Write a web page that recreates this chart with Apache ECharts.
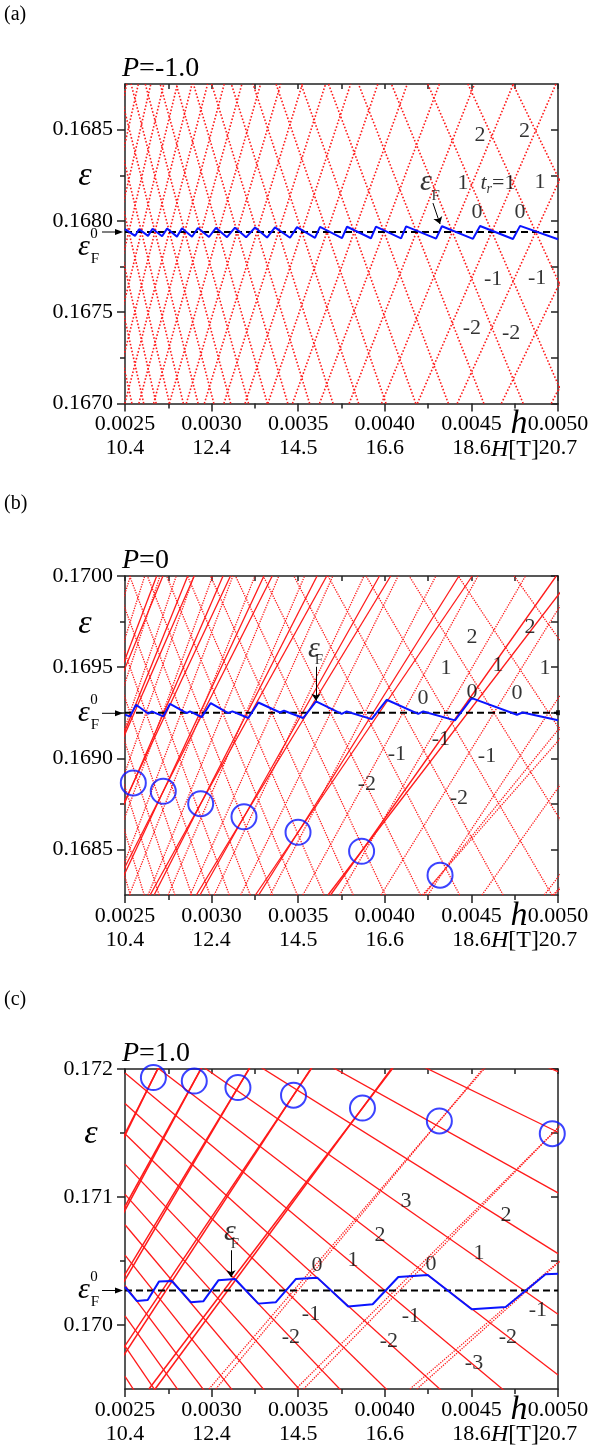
<!DOCTYPE html>
<html><head><meta charset="utf-8">
<script src="https://cdn.jsdelivr.net/npm/echarts@6/dist/echarts.min.js"></script>
<style>html,body{margin:0;padding:0;background:#fff}#c{width:593px;height:1451px}</style>
</head><body><div id="c"></div>
<script>
// ---------- axis ticks / labels ----------
const xMajors=[0.0025,0.0030,0.0035,0.0040,0.0045,0.0050];
const xMinors=[0.00275,0.00325,0.00375,0.00425,0.00475];
const hLabels=['0.0025','0.0030','0.0035','0.0040','0.0045','0.0050'];
const teslaLabels=['10.4','12.4','14.5','16.6','18.6','20.7'];
const yRanges=[[0.1670,0.16875],[0.16825,0.1700],[0.1695,0.1720]];
const yMajors=[[0.1670,0.1675,0.1680,0.1685],[0.1685,0.1690,0.1695,0.1700],[0.170,0.171,0.172]];
const yMinors=[[0.16725,0.16775,0.16825],[0.16875,0.16925,0.16975],[0.1705,0.1715]];
const yDigits=[4,4,3];
// ---------- Fermi level ----------
const fermiZero=[0.16794,0.16925,0.17027];
const fermiA=[[0.0025,0.167955],[0.002558,0.167918],[0.002581,0.167955],[0.002633,0.167918],[0.002659,0.167957],[0.002714,0.167916],[0.002743,0.167958],[0.002800,0.167914],[0.002829,0.167960],[0.002887,0.167913],[0.002921,0.167961],[0.002985,0.167912],[0.003025,0.167962],[0.003089,0.167911],[0.003135,0.167963],[0.003199,0.167910],[0.003251,0.167964],[0.003320,0.167909],[0.003366,0.167965],[0.003453,0.167908],[0.003493,0.167966],[0.003597,0.167907],[0.003626,0.167967],[0.003753,0.167906],[0.003782,0.167968],[0.003920,0.167905],[0.003949,0.167969],[0.004094,0.167904],[0.004123,0.167970],[0.004296,0.167903],[0.004330,0.167971],[0.004509,0.167902],[0.004550,0.167972],[0.004740,0.167901],[0.004781,0.167973],[0.0050,0.167900]];
const fermiB=[[0.0025,0.169239],[0.002529,0.169230],[0.002564,0.169294],[0.002635,0.169244],[0.002654,0.169257],[0.002721,0.169230],[0.002760,0.169299],[0.002856,0.169248],[0.002875,0.169257],[0.002943,0.169226],[0.002995,0.169303],[0.003096,0.169248],[0.003120,0.169257],[0.003212,0.169221],[0.003270,0.169306],[0.003395,0.169251],[0.003418,0.169261],[0.003529,0.169221],[0.003603,0.169312],[0.003751,0.169244],[0.003780,0.169257],[0.003924,0.169215],[0.004011,0.169321],[0.004193,0.169244],[0.004222,0.169257],[0.004405,0.169208],[0.004502,0.169330],[0.004763,0.169239],[0.004796,0.169251],[0.0050,0.169209]];
const fermiC=[[0.0025,0.170297],[0.002568,0.170188],[0.002631,0.170195],[0.002696,0.170339],[0.002770,0.170344],[0.002881,0.170177],[0.002952,0.170185],[0.003039,0.170349],[0.003135,0.170359],[0.003270,0.170167],[0.003370,0.170177],[0.003486,0.170359],[0.003610,0.170370],[0.003789,0.170144],[0.003930,0.170162],[0.004078,0.170375],[0.004248,0.170391],[0.004502,0.170123],[0.004698,0.170141],[0.004928,0.170396],[0.0050,0.170400]];
// ---------- Landau levels (h where each line meets the bottom / top of its panel) ----------
const levelsUpA=[[0.004961,0.005909],[0.004673,0.005566],[0.004418,0.005262],[0.004188,0.004988],[0.003981,0.004742],[0.003794,0.004518],[0.003623,0.004315],[0.003467,0.004130],[0.003325,0.003960],[0.003193,0.003803],[0.003071,0.003658],[0.002958,0.003524],[0.002854,0.003399],[0.002756,0.003283],[0.002665,0.003175],[0.002580,0.003073],[0.002499,0.002977],[0.002424,0.002887],[0.002353,0.002803],[0.002287,0.002724],[0.002224,0.002649],[0.002164,0.002577],[0.002108,0.002510]];
const levelsDownA=[[0.005633,0.004740],[0.005325,0.004480],[0.005048,0.004248],[0.004799,0.004038],[0.004572,0.003848],[0.004367,0.003675],[0.004179,0.003516],[0.004007,0.003372],[0.003849,0.003239],[0.003701,0.003114],[0.003566,0.003000],[0.003440,0.002895],[0.003322,0.002795],[0.003213,0.002703],[0.003110,0.002617],[0.003013,0.002535],[0.002922,0.002459],[0.002837,0.002387],[0.002757,0.002320],[0.002680,0.002255],[0.002608,0.002195],[0.002540,0.002138]];
const levelsUpB=[[0.004921,0.006332],[0.004561,0.005869],[0.004249,0.005468],[0.003978,0.005119],[0.003739,0.004812],[0.003527,0.004538],[0.003338,0.004295],[0.003168,0.004077],[0.003015,0.003880],[0.002876,0.003700],[0.002749,0.003537],[0.002633,0.003388],[0.002525,0.003250],[0.002427,0.003123],[0.002336,0.003006],[0.002252,0.002898],[0.002173,0.002796],[0.002100,0.002702],[0.002031,0.002614],[0.001967,0.002531]];
const levelsDownB=[[0.006055,0.004747],[0.005642,0.004424],[0.005282,0.004141],[0.004965,0.003892],[0.004683,0.003672],[0.004432,0.003475],[0.004206,0.003298],[0.004003,0.003138],[0.003818,0.002994],[0.003649,0.002861],[0.003495,0.002740],[0.003353,0.002629],[0.003223,0.002527],[0.003102,0.002432],[0.002990,0.002344],[0.002885,0.002262],[0.002788,0.002186],[0.002697,0.002114],[0.002611,0.002047],[0.002531,0.001985]];
const pairsSolidB=[[0.001961,0.002719],[0.001984,0.002683],[0.002093,0.002900],[0.002116,0.002862],[0.002244,0.003109],[0.002267,0.003066],[0.002418,0.003350],[0.002441,0.003302],[0.002645,0.003665],[0.002668,0.003609],[0.002912,0.004034],[0.002933,0.003969],[0.003253,0.004505],[0.003272,0.004428],[0.003672,0.005085],[0.003687,0.004990]];
const pairsDottedB=[[0.004218,0.005838],[0.004226,0.005722],[0.004976,0.006884],[0.004971,0.006734]];
// panel c down levels: energy at h=0.0025 and at h=0.0050
const levelsDownC=[[0.17339,0.17198],[0.173153,0.171506],[0.172916,0.171032],[0.172679,0.170558],[0.172442,0.170084],[0.172205,0.16961],[0.171968,0.169136],[0.171731,0.168662],[0.171494,0.168188],[0.171257,0.167714],[0.17102,0.16724],[0.170783,0.166766],[0.170546,0.166292],[0.170309,0.165818],[0.170072,0.165344],[0.169835,0.16487],[0.169598,0.164396]];
// panel c up levels: h at eps=0.1695 and eps=0.1722
const pairsSolidC=[[0.001754,0.002764],[0.001781,0.002761],[0.001917,0.00302],[0.001946,0.003017],[0.002099,0.003306],[0.00213,0.003302],[0.002332,0.003674],[0.002366,0.003668],[0.002638,0.004155],[0.002674,0.004146]];
const pairsDottedC=[[0.002985,0.0047],[0.003024,0.004689],[0.003486,0.00549],[0.003531,0.005475],[0.004145,0.006477],[0.004185,0.00642]];
// ---------- circles, labels ----------
const circlesB=[[0.002548,0.168865],[0.002721,0.168819],[0.002937,0.168751],[0.003187,0.168679],[0.003499,0.168594],[0.003866,0.168490],[0.004319,0.168359]];
const circlesC=[[0.002664,0.171933],[0.002900,0.171906],[0.003152,0.171855],[0.003473,0.171795],[0.003871,0.171695],[0.004315,0.171594],[0.004967,0.171495]];
const labelsA=[[0.004550,0.168471,'2'],[0.004807,0.168489,'2'],[0.004451,0.168208,'1'],[0.004896,0.168213,'1'],[0.004532,0.168046,'0'],[0.004780,0.168049,'0'],[0.004625,0.167682,'-1'],[0.004879,0.167688,'-1'],[0.004503,0.167411,'-2'],[0.004729,0.167386,'-2']];
const labelsB=[[0.004503,0.169666,'2'],[0.004838,0.169721,'2'],[0.004353,0.169496,'1'],[0.004653,0.169513,'1'],[0.004925,0.169496,'1'],[0.004220,0.169332,'0'],[0.004503,0.169365,'0'],[0.004763,0.169359,'0'],[0.004070,0.169025,'-1'],[0.004324,0.169107,'-1'],[0.004590,0.169009,'-1'],[0.003897,0.168856,'-2'],[0.004428,0.168779,'-2']];
const labelsC=[[0.004122,0.170966,'3'],[0.003972,0.170701,'2'],[0.004700,0.170857,'2'],[0.003816,0.170505,'1'],[0.004544,0.170560,'1'],[0.003608,0.170466,'0'],[0.004267,0.170474,'0'],[0.003574,0.170084,'-1'],[0.004151,0.170068,'-1'],[0.004884,0.170115,'-1'],[0.003458,0.169904,'-2'],[0.004024,0.169873,'-2'],[0.004711,0.169904,'-2'],[0.004515,0.169701,'-3']];
const efNotes=[[0.004238,0.168213,0.004293,0.168137,0.004278,0.168098,0.004319,0.167983],[0.003591,0.169600,0.003620,0.169540,0.003603,0.169502,0.003603,0.169316],[0.003106,0.170724,0.003135,0.170630,0.003112,0.170584,0.003112,0.170373]];

const grids=[{left:125,top:84,width:433,height:319.5},{left:125,top:576,width:433,height:319},{left:125,top:1069,width:433,height:320}];
const AX='#222';
const serif='Liberation Serif';
let xAxis=[],yAxis=[],series=[];
for(let g=0;g<3;g++){
  const base={gridIndex:g,type:'value',min:0.0025,max:0.0050,splitLine:{show:false}};
  xAxis.push(Object.assign({},base,{position:'bottom',axisLine:{show:true,onZero:false,lineStyle:{color:AX,width:1.5}},
    axisTick:{show:true,inside:false,length:8,customValues:xMajors,lineStyle:{color:AX,width:1.5}},
    axisLabel:{show:true,customValues:xMajors,margin:9,formatter:v=>{const i=Math.round((v-0.0025)/0.0005);return '{a|'+hLabels[i]+'}\n{b|'+teslaLabels[i]+'}';},
      rich:{a:{fontFamily:serif,fontSize:22,lineHeight:24,color:'#000'},b:{fontFamily:serif,fontSize:22,lineHeight:24,color:'#000'}}}}));
  xAxis.push(Object.assign({},base,{position:'bottom',axisLine:{show:false,onZero:false},axisTick:{show:true,inside:false,length:5,customValues:xMinors,lineStyle:{color:AX,width:1.5}},axisLabel:{show:false}}));
  xAxis.push(Object.assign({},base,{position:'top',axisLine:{show:true,onZero:false,lineStyle:{color:AX,width:1.5}},axisTick:{show:true,inside:true,length:5,customValues:xMajors.concat(xMinors),lineStyle:{color:AX,width:1.5}},axisLabel:{show:false}}));
  const yb={gridIndex:g,type:'value',min:yRanges[g][0],max:yRanges[g][1],splitLine:{show:false}};
  yAxis.push(Object.assign({},yb,{position:'left',axisLine:{show:true,onZero:false,lineStyle:{color:AX,width:1.5}},
    axisTick:{show:true,inside:false,length:8,customValues:yMajors[g],lineStyle:{color:AX,width:1.5}},
    axisLabel:{show:true,customValues:yMajors[g],margin:12,fontFamily:serif,fontSize:22,color:'#000',formatter:v=>v.toFixed(yDigits[g])}}));
  yAxis.push(Object.assign({},yb,{position:'left',axisLine:{show:false,onZero:false},axisTick:{show:true,inside:false,length:5,customValues:yMinors[g],lineStyle:{color:AX,width:1.5}},axisLabel:{show:false}}));
  yAxis.push(Object.assign({},yb,{position:'right',axisLine:{show:true,onZero:false,lineStyle:{color:AX,width:1.5}},axisTick:{show:true,inside:true,length:7,customValues:yMajors[g].concat(yMinors[g]),lineStyle:{color:AX,width:1.5}},axisLabel:{show:false}}));
}
function seg(g,p1,p2,style){series.push({type:'line',xAxisIndex:3*g,yAxisIndex:3*g,data:[p1,p2],symbol:'none',silent:true,clip:true,z:2,lineStyle:style,animation:false});}
const RED='#ff1a1a';
const dotted={color:RED,width:1.6,type:[1.6,1.9]};
const fineDot={color:RED,width:1.3,type:[1.3,1.2]};
const solid={color:RED,width:1.3,type:'solid'};
const solidBold={color:RED,width:1.5,type:'solid'};
// panel a
levelsUpA.forEach(l=>seg(0,[l[0],yRanges[0][0]],[l[1],yRanges[0][1]],dotted));
levelsDownA.forEach(l=>seg(0,[l[0],yRanges[0][0]],[l[1],yRanges[0][1]],dotted));
// panel b
levelsUpB.forEach(l=>seg(1,[l[0],yRanges[1][0]],[l[1],yRanges[1][1]],fineDot));
levelsDownB.forEach(l=>seg(1,[l[0],yRanges[1][0]],[l[1],yRanges[1][1]],fineDot));
pairsSolidB.forEach(l=>seg(1,[l[0],yRanges[1][0]],[l[1],yRanges[1][1]],solid));
pairsDottedB.forEach(l=>seg(1,[l[0],yRanges[1][0]],[l[1],yRanges[1][1]],fineDot));
// panel c
levelsDownC.forEach(l=>seg(2,[0.0025,l[0]],[0.0050,l[1]],solid));
pairsSolidC.forEach(l=>seg(2,[l[0],0.1695],[l[1],0.1722],solidBold));
pairsDottedC.forEach(l=>seg(2,[l[0],0.1695],[l[1],0.1722],fineDot));

const fermis=[fermiA,fermiB,fermiC];
for(let g=0;g<3;g++){
  series.push({type:'line',xAxisIndex:3*g,yAxisIndex:3*g,data:[[0.0025,fermiZero[g]],[0.0050,fermiZero[g]]],symbol:'none',silent:true,z:3,lineStyle:{color:'#000',width:2,type:[7,4]},animation:false});
  series.push({type:'line',xAxisIndex:3*g,yAxisIndex:3*g,data:fermis[g],symbol:'none',silent:true,z:4,lineStyle:{color:'#0a14ff',width:2},animation:false});
  const labs=[labelsA,labelsB,labelsC][g];
  series.push({type:'scatter',xAxisIndex:3*g,yAxisIndex:3*g,data:labs,symbolSize:0.1,silent:true,z:6,animation:false,
    label:{show:true,position:'inside',formatter:p=>p.data[2],fontFamily:serif,fontSize:22,color:'#000'}});
  const n=efNotes[g];
  series.push({type:'scatter',xAxisIndex:3*g,yAxisIndex:3*g,data:[[n[0],n[1]]],symbolSize:0.1,silent:true,z:6,animation:false,
    label:{show:true,position:'inside',formatter:'ε',fontFamily:serif,fontStyle:'italic',fontSize:30,color:'#000'}});
  series.push({type:'scatter',xAxisIndex:3*g,yAxisIndex:3*g,data:[[n[2],n[3]]],symbolSize:0.1,silent:true,z:6,animation:false,
    label:{show:true,position:'inside',formatter:'F',fontFamily:serif,fontSize:15,color:'#000'}});
  series.push({type:'lines',coordinateSystem:'cartesian2d',xAxisIndex:3*g,yAxisIndex:3*g,symbol:['none','arrow'],symbolSize:7,silent:true,z:6,animation:false,
    lineStyle:{color:'#000',width:1,opacity:1},data:[{coords:[[n[4],n[5]],[n[6],n[7]]]}]});
}
// small end mark on the dashed line of panel b
series.push({type:'scatter',xAxisIndex:3,yAxisIndex:3,data:[[0.0050,fermiZero[1]]],symbol:'rect',symbolSize:[4,5],silent:true,z:8,animation:false,itemStyle:{color:'#000'}});
[circlesB,circlesC].forEach((c,i)=>series.push({type:'scatter',xAxisIndex:3*(i+1),yAxisIndex:3*(i+1),data:c,symbol:'circle',symbolSize:25,silent:true,z:7,animation:false,
  itemStyle:{color:'rgba(0,0,0,0)',borderColor:'#0a14ff',borderWidth:2}}));
series.push({type:'scatter',xAxisIndex:0,yAxisIndex:0,data:[[0.004653,0.168208]],symbolSize:0.1,silent:true,z:6,animation:false,
  label:{show:true,position:'inside',formatter:'{t|t}{r|r}{n|=1}',rich:{t:{fontFamily:serif,fontStyle:'italic',fontSize:22},r:{fontFamily:serif,fontStyle:'italic',fontSize:14,padding:[12,0,0,0]},n:{fontFamily:serif,fontSize:22}},color:'#000'}});

const graphic=[];
const panelTops=[84,576,1069],panelBottoms=[403.5,895,1389];
const panelLetters=['(a)','(b)','(c)'],panelLetterY=[16,505,1001];
const titles=['P=-1.0','P=0','P=1.0'];
const fermiY=[232,713.3,1290.5];
const epsY=[176,624,1134],epsX=[85,85,91];
for(let g=0;g<3;g++){
  graphic.push({type:'text',left:4,top:panelLetterY[g]-11,style:{text:panelLetters[g],font:'20px "Liberation Serif"',fill:'#000'}});
  graphic.push({type:'text',x:122,y:panelTops[g]-1,style:{text:'{p|P}{q|'+titles[g].slice(1)+'}',rich:{p:{fontFamily:serif,fontStyle:'italic',fontSize:28},q:{fontFamily:serif,fontSize:28}},textVerticalAlign:'bottom',fill:'#000'}});
  graphic.push({type:'text',x:epsX[g],y:epsY[g],style:{text:'ε',font:'italic 34px "Liberation Serif"',fill:'#000',textAlign:'center',textVerticalAlign:'middle'}});
  graphic.push({type:'text',x:519,y:panelBottoms[g]+21,style:{text:'h',font:'italic 34px "Liberation Serif"',fill:'#000',textAlign:'center',textVerticalAlign:'middle'}});
  graphic.push({type:'text',x:515,y:panelBottoms[g]+46,style:{text:'{h|H}{t|[T]}',rich:{h:{fontFamily:serif,fontStyle:'italic',fontSize:24},t:{fontFamily:serif,fontSize:24}},fill:'#000',textAlign:'center',textVerticalAlign:'middle'}});
  const fy=fermiY[g];
  const dy=(g===0)?15:0;
  graphic.push({type:'text',x:84,y:fy+dy,style:{text:'ε',font:'italic 30px "Liberation Serif"',fill:'#000',textAlign:'center',textVerticalAlign:'middle'}});
  graphic.push({type:'text',x:94,y:fy+dy-13,style:{text:'0',font:'15px "Liberation Serif"',fill:'#000',textAlign:'center',textVerticalAlign:'middle'}});
  graphic.push({type:'text',x:95,y:fy+dy+12,style:{text:'F',font:'15px "Liberation Serif"',fill:'#000',textAlign:'center',textVerticalAlign:'middle'}});
  graphic.push({type:'line',shape:{x1:102,y1:fy,x2:117,y2:fy},style:{stroke:'#000',lineWidth:1}});
  graphic.push({type:'polygon',shape:{points:[[123,fy],[115,fy-3],[115,fy+3]]},style:{fill:'#000'}});
}
const chart=echarts.init(document.getElementById('c'),null,{renderer:'canvas'});
chart.setOption({animation:false,backgroundColor:'#fff',grid:grids,xAxis,yAxis,series,graphic});
</script></body></html>
